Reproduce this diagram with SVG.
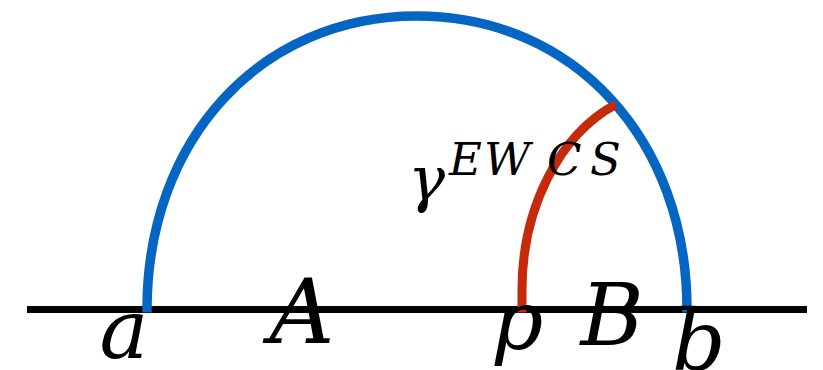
<svg xmlns="http://www.w3.org/2000/svg" width="823" height="370" viewBox="0 0 823 370">
<style>
.axis{stroke:#000;stroke-width:7;fill:none}
.geo{stroke:#0565C2;stroke-width:9.5;fill:none}
.ewcs{stroke:#C42A0B;stroke-width:9;fill:none}
.m{font-family:'DejaVu Serif',serif;font-style:italic;fill:#000}
</style>
<rect width="823" height="370" fill="#fff"/>
<g id="connectors">
<line id="boundary" class="axis" x1="27" y1="309.5" x2="807" y2="309.5"/>
<path id="geodesic" class="geo" d="M147,312.5 L147,309.5 C147,139.3 260.4,16 417,16 C573.6,16 687,139.3 687,309.5 L687,312.5"/>
<path id="gamma" class="ewcs" d="M522,312.5 L522,290 A150 200 0 0 1 615.5,104.5"/>
</g>
<g id="labels">
<g id="label-a"><text class="m" x="124" y="358" font-size="82" text-anchor="middle">a</text></g>
<g id="label-A"><text class="m" x="302" y="343" font-size="90" text-anchor="middle">A</text></g>
<g id="label-p"><text class="m" x="517" y="349" font-size="82" text-anchor="middle">p</text></g>
<g id="label-B"><text class="m" x="612" y="345" font-size="86" text-anchor="middle">B</text></g>
<g id="label-b"><text class="m" x="699" y="370" font-size="84" text-anchor="middle">b</text></g>
<g id="label-gamma"><text class="m" x="408" y="200" font-size="62">γ<tspan font-size="45" y="175" x="449">E</tspan><tspan font-size="45" x="484">W</tspan><tspan font-size="45" x="547">C</tspan><tspan font-size="45" x="590">S</tspan></text></g>
</g>
</svg>
